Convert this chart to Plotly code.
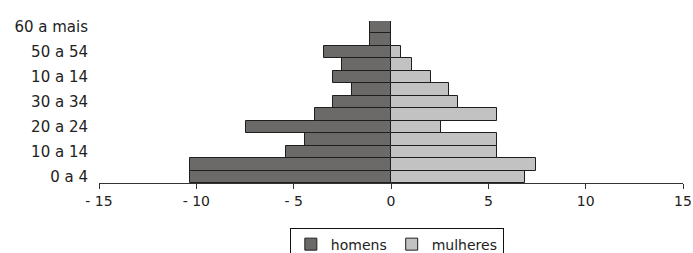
import plotly.graph_objects as go

age_groups = ["0-4", "5-9", "10-14", "15-19", "20-24", "25-29", "30-34",
              "35-39", "40-44", "45-49", "50-54", "55-59", "60+"]
homens = [-10.3, -10.3, -5.37, -4.43, -7.44, -3.9, -2.98,
          -2.0, -2.98, -2.51, -3.42, -1.06, -1.06]
mulheres = [6.88, 7.44, 5.43, 5.43, 2.57, 5.43, 3.45,
            2.96, 2.05, 1.07, 0.49, 0.0, 0.0]

y_tick_cats = ["0-4", "10-14", "20-24", "30-34", "40-44", "50-54", "60+"]
y_tick_text = ["0 a 4", "10 a 14", "20 a 24", "30 a 34", "10 a 14", "50 a 54", "60 a mais"]
x_tick_vals = [-15, -10, -5, 0, 5, 10, 15]
x_tick_text = ["- 15", "- 10", "- 5", "0", "5", "10", "15"]

fig = go.Figure()
fig.add_trace(go.Bar(y=age_groups, x=homens, orientation="h", name="homens",
                     marker=dict(color="#6b6a68", line=dict(color="#1e1e1e", width=1))))
fig.add_trace(go.Bar(y=age_groups, x=mulheres, orientation="h", name="mulheres",
                     marker=dict(color="#c2c2c2", line=dict(color="#1e1e1e", width=1))))

fig.update_layout(
    width=693, height=253,
    margin=dict(l=99, r=10, t=21, b=70, autoexpand=False),
    barmode="relative", bargap=0,
    plot_bgcolor="white", paper_bgcolor="white",
    font=dict(family="DejaVu Sans, sans-serif", size=15, color="#222"),
    showlegend=True,
    legend=dict(orientation="h", x=0.51, xanchor="center", y=-0.275, yanchor="top",
                bordercolor="#111", borderwidth=1, bgcolor="white",
                font=dict(size=14), itemwidth=30),
    xaxis=dict(range=[-15, 15], tickvals=x_tick_vals, ticktext=x_tick_text,
               showgrid=False, zeroline=False, showline=True, linecolor="#333",
               linewidth=1, ticks="outside", ticklen=5, tickcolor="#333",
               tickfont=dict(size=14), automargin=False, ticklabeloverflow="allow"),
    yaxis=dict(categoryorder="array", categoryarray=age_groups,
               range=[-0.5, 12.5], tickvals=y_tick_cats, ticktext=y_tick_text,
               showgrid=False, zeroline=False, showline=False, ticks="",
               tickfont=dict(size=15), ticklabelstandoff=10, automargin=False),
)

fig.write_html("out.html", config={"displayModeBar": False},
               post_script="document.body.style.margin='0';document.body.style.overflow='hidden';")
